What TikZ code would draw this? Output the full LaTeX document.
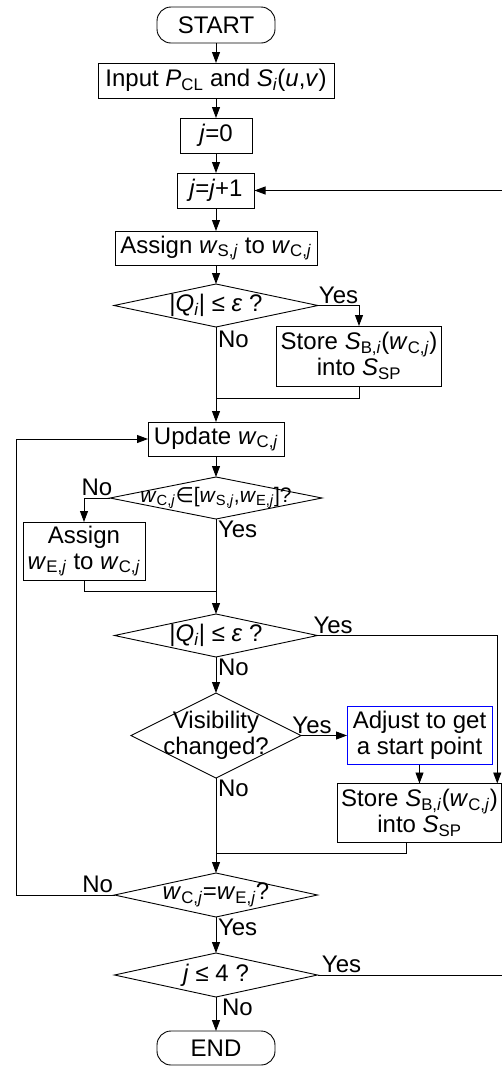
\documentclass[tikz,border=0pt]{standalone}
\usepackage{fontspec}
\setmainfont{Liberation Sans}
\newfontfamily\dejavu{DejaVu Sans}
\usetikzlibrary{shapes.geometric, arrows.meta, positioning}

\newcommand{\wsub}[1]{\textit{w}\textsubscript{#1,\textit{j}}}

\begin{document}
\begin{tikzpicture}[
    font=\fontsize{24}{26}\selectfont,
    line width=0.9pt,
    every node/.append style={outer sep=0pt},
    terminal/.style={rectangle, draw, rounded corners=14pt, minimum width=118pt, minimum height=36pt},
    box/.style={rectangle, draw, align=center, inner xsep=4pt, inner ysep=2pt, minimum height=35pt},
    decision/.style={diamond, draw, inner sep=0pt, minimum width=203pt, minimum height=43pt},
    answer/.style={inner sep=2pt},
    arrow/.style={-{Triangle[length=11pt, width=8pt]}}
]
\useasboundingbox (0,0) rectangle (502pt,-1066pt);

\node[terminal] (start) at (216pt,-25pt) {START};
\node[box, minimum width=236pt, below=20pt of start] (input) {Input \textit{P}\textsubscript{CL} and \textit{S}\textsubscript{\textit{i}}(\textit{u},\textit{v})};
\node[box, minimum width=72pt, below=20pt of input] (init) {\textit{j}=0};
\node[box, minimum width=77pt, below=20pt of init] (incr) {\textit{j}=\textit{j}+1};
\node[box, minimum width=202pt, minimum height=34pt, below=23pt of incr] (assignS) {Assign \wsub{S} to \wsub{C}};
\node[decision, minimum width=204pt, below=19pt of assignS,
      label=center:{|\textit{Q}\textsubscript{\textit{i}}| ≤ \textit{ε} ?}] (test1) {};
\node[box, minimum width=164pt, minimum height=60pt, anchor=north] (store1) at ([xshift=143pt, yshift=1pt]test1.south)
      {Store \textit{S}\textsubscript{B,\textit{i}}(\wsub{C})\\into \textit{S}\textsubscript{SP}};
\node[box, minimum width=136pt, minimum height=34pt, below=95pt of test1] (update) {Update \wsub{C}};
\coordinate (join1) at ([yshift=24pt]update.north);
\node[decision, minimum width=212pt, minimum height=42pt, below=21pt of update,
      label={[font=\fontsize{21}{24}\selectfont]center:{\wsub{C}{\dejavu ∈}[\wsub{S},\wsub{E}]?}}] (test2) {};
\node[box, minimum width=122pt, minimum height=58pt, anchor=north] (assignE) at ([xshift=-132pt, yshift=-3pt]test2.south)
      {Assign\\\wsub{E} to \wsub{C}};
\node[decision, below=95pt of test2,
      label=center:{|\textit{Q}\textsubscript{\textit{i}}| ≤ \textit{ε} ?}] (test3) {};
\coordinate (join2) at ([yshift=23pt]test3.north);
\node[decision, minimum width=170pt, minimum height=85pt, below=36pt of test3,
      label={[align=center]center:{Visibility\\changed?}}] (visible) {};
\node[box, draw=blue, minimum width=145pt, minimum height=58pt, right=46pt of visible] (adjust) {Adjust to get\\a start point};
\node[box, minimum width=164pt, minimum height=59pt, below=19pt of adjust] (store2)
      {Store \textit{S}\textsubscript{B,\textit{i}}(\wsub{C})\\into \textit{S}\textsubscript{SP}};
\node[decision, minimum height=44pt, below=95pt of visible,
      label=center:{\wsub{C}=\wsub{E}?}] (test4) {};
\coordinate (join3) at ([yshift=20pt]test4.north);
\node[decision, minimum height=44pt, below=36pt of test4,
      label=center:{\textit{j} ≤ 4 ?}] (test5) {};
\node[terminal, minimum height=34pt, below=34pt of test5] (end) {END};

% main column
\draw[arrow] (start) -- (input);
\draw[arrow] (input) -- (init);
\draw[arrow] (init) -- (incr);
\draw[arrow] (incr) -- (assignS);
\draw[arrow] (assignS) -- (test1);
\draw[arrow] (test1.south) -- node[answer, pos=0, below right, yshift=-2pt]{No} (update.north);
\draw[arrow] (update) -- (test2);
\draw[arrow] (test2.south) -- node[answer, pos=0, below right]{Yes} (test3.north);
\draw[arrow] (test3.south) -- node[answer, pos=0, below right]{No} (visible.north);
\draw[arrow] (visible.south) -- node[answer, pos=0, below right]{No} (test4.north);
\draw[arrow] (test4.south) -- node[answer, pos=0, below right]{Yes} (test5.north);
\draw[arrow] (test5.south) -- node[answer, pos=0, below right, xshift=4pt]{No} (end.north);

% side branches
\draw[arrow] (test1.east) -| node[answer, pos=0.25, above]{Yes} (store1.north);
\draw (store1.south) |- (join1);
\draw[arrow] (test2.west) -| node[answer, pos=0.25, above]{No} (assignE.north);
\draw (assignE.south) |- (join2);
\draw[arrow] (test3.east) -| node[answer, pos=0, above right, xshift=-6pt]{Yes} ([xshift=-4.5pt]store2.north east);
\draw[arrow] (visible.east) -- node[answer, pos=0.24, above]{Yes} (adjust.west);
\draw[arrow] (adjust) -- (store2);
\draw ([xshift=-13pt]store2.south) |- (join3);

% loops
\draw[arrow] (test4.west) -- node[answer, pos=0.17, above]{No} ++(-98.5pt,0) |- (update.west);
\draw[arrow] (test5.east) -- node[answer, pos=0.13, above]{Yes} ++(185pt,0) |- (incr.east);

\end{tikzpicture}
\end{document}
